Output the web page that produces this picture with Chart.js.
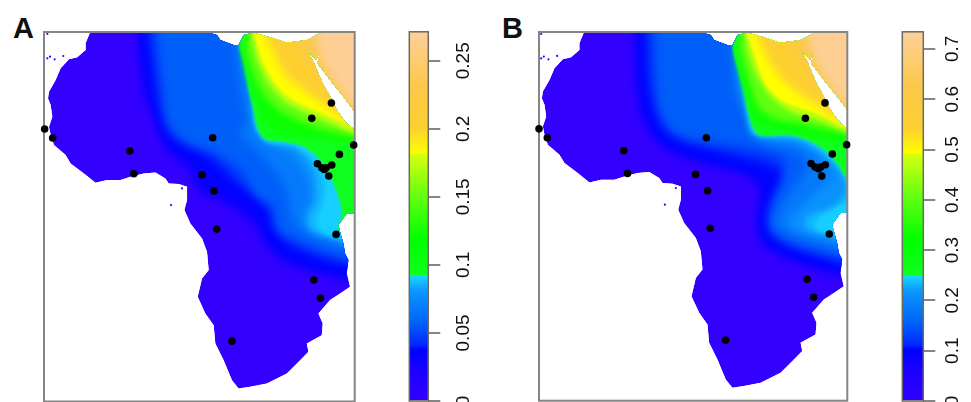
<!DOCTYPE html>
<html>
<head>
<meta charset="utf-8">
<script src="https://cdn.jsdelivr.net/npm/chart.js@4/dist/chart.umd.js"></script>
<style>
html, body { margin: 0; padding: 0; background: #fff; overflow: hidden; }
#page { position: relative; width: 971px; height: 402px; overflow: hidden; }
canvas { position: absolute; }
.tag { position: absolute; font: bold 29px "Liberation Sans", sans-serif; color: #111; line-height: 29px; }
</style>
</head>
<body>
<div id="page">
  <div class="tag" style="left:13px;top:14px">A</div>
  <div class="tag" style="left:502px;top:14px">B</div>
  <canvas id="mapA" width="320" height="380" style="left:40px;top:28px"></canvas>
  <canvas id="barA" width="90" height="400" style="left:400px;top:28px"></canvas>
  <canvas id="mapB" width="320" height="380" style="left:535px;top:28px"></canvas>
  <canvas id="barB" width="90" height="400" style="left:893px;top:28px"></canvas>
</div>
<script>
// colour ramp shared by both keys, position is the fraction of the key height
var rampPos = [0, 0.084, 0.138, 0.152, 0.22, 0.30, 0.3389, 0.339, 0.436, 0.55, 0.669, 0.67, 0.74, 0.85, 1];
var rampCol = ['#3300ff', '#1a00ff', '#0000ff', '#0028ff', '#0068f8', '#0c98ff', '#18d8ff', '#10ff20',
               '#00ff00', '#60ff10', '#d8ff10', '#ffff00', '#fdd030', '#fcc84a', '#fdd09a'];

// colour key A
var keyMaxA = 0.2713;
var keyTicksA = [0, 0.05, 0.1, 0.15, 0.2, 0.25];
var keyBreaksA = [0, 0.092, 0.1816, 0.2713];
// colour key B
var keyMaxB = 0.734;
var keyTicksB = [0, 0.1, 0.2, 0.3, 0.4, 0.5, 0.6, 0.7];
var keyBreaksB = [0, 0.2485, 0.493, 0.734];

// coastline, in map units
var landX = [268,600,650,660,700,715,730,760,810,860,920,955,962,1090,1090,1064,1030,990,952,960,948,920,940,970,985,1010,1035,1064,1090,1090,1040,1015,1020,1030,1035,1045,1040,1050,1020,990,955,968,965,920,925,900,860,800,750,715,695,670,645,640,615,592,605,625,620,605,570,552,560,560,535,505,495,465,430,390,360,320,285,250,210,195,160,150,145,155,150,142,145,165,180,205,230,255,255,268];
var landY = [90,90,105,120,135,135,105,98,112,128,120,102,90,90,335,335,290,240,190,155,180,150,185,255,280,330,365,390,395,640,640,675,695,730,760,780,820,860,880,900,940,970,1005,1030,1055,1080,1120,1150,1160,1165,1140,1080,1030,975,940,890,835,810,755,715,670,630,600,560,552,550,535,517,520,530,540,540,548,520,490,465,435,405,380,350,315,295,275,240,205,178,172,150,130,98];
// small specks off the coast
var speckX = [140,140,148,162,188,545,512];
var speckY = [102,175,170,178,168,565,615];

// blur of each contour band, soft inside the ramp, tight at the hard steps
var bandBlur = [5, 5, 5, 5, 5, 4, 3, 2, 0.8, 3, 3, 2, 1.2, 4, 5, 5];

// panel A: sampling sites
var siteXA = [132,156,388,400,637,605,641,649,695,941,961,1008,986,995,1018,1061,935,994,952,965,972,978];
var siteYA = [387,414,453,521,413,524,573,687,1023,840,894,703,528,495,463,435,355,309,491,503,508,503];

// panel A: value of each contour and its line across the map
var levelsA = [0.033, 0.038, 0.046, 0.057, 0.068, 0.079, 0.087, 0.0905, 0.092, 0.122, 0.149, 0.174, 0.182, 0.201, 0.231, 0.268];
var contourXA = [
  [410,420,430,460,500,570,590,680,760,820,920,1064],
  [425,435,450,475,520,600,640,700,775,805,850,950,1064],
  [445,460,475,505,550,630,710,790,825,870,965,1064],
  [470,480,490,505,550,650,720,770,820,835,890,980,1064],
  [700,712,722,740,720,770,820,860,870,890,960,1064],
  [730,740,750,760,790,870,920,930,910,930,1010,1064],
  [735,745,760,768,800,890,940,950,925,935,1020,1064],
  [730,745,760,770,800,880,950,975,965,950,965,1064],
  [730,715,730,745,760,770,795,850,910,960,995,1015,1025,1015,1064],
  [740,725,740,765,805,840,1064],
  [745,738,760,795,850,940,1064],
  [752,768,805,855,930,1000,1064],
  [760,785,820,870,940,1010,1064],
  [790,825,860,910,980,1064],
  [870,915,965,1030,1064],
  [945,960,1000,1064]
];
var contourYA = [
  [96,190,270,340,450,510,570,610,670,760,810,845],
  [96,200,290,380,440,490,540,580,635,700,760,795,820],
  [96,200,300,390,430,470,545,600,680,730,770,795],
  [96,200,270,370,420,460,510,590,620,690,720,755,780],
  [96,200,270,370,405,450,510,570,630,680,720,750],
  [96,200,270,370,420,460,530,590,650,690,720,740],
  [96,200,300,380,425,445,510,600,650,690,715,730],
  [96,200,330,385,422,435,490,560,620,660,695,725],
  [96,125,190,270,330,380,418,425,440,480,540,590,640,690,700],
  [96,150,220,300,380,400,430],
  [96,140,220,290,340,380,410],
  [96,170,250,305,345,375,400],
  [96,180,245,295,330,360,385],
  [96,170,230,270,320,375],
  [96,160,250,330,360],
  [96,170,240,320]
];

// panel B: sampling sites
var siteXB = [145,170,400,411,648,616,652,660,706,951,971,1018,995,1006,1027,1070,946,1005,963,975,985,992];
var siteYB = [385,412,451,519,412,522,571,684,1020,837,891,701,527,493,461,433,353,307,489,500,505,500];

// panel B: value of each contour and its line across the map
var levelsB = [0.088, 0.103, 0.125, 0.154, 0.184, 0.213, 0.235, 0.2445, 0.249, 0.33, 0.404, 0.47, 0.492, 0.543, 0.624, 0.725];
var contourXB = [
  [432,440,465,525,635,765,805,805,835,935,1072],
  [447,453,465,500,580,720,820,835,810,820,895,1072],
  [470,478,495,530,610,745,860,880,855,835,850,920,1072],
  [492,500,510,535,585,705,805,885,875,850,840,885,975,1072],
  [722,735,765,780,825,915,955,915,875,860,905,995,1072],
  [735,755,775,795,835,925,995,1025,975,915,895,935,1025,1072],
  [745,760,785,815,925,1005,1060,1065,1025,950,950,1025,1072],
  [745,760,785,815,925,1010,1065,1080,1040,985,975,1040,1072],
  [745,727,745,760,775,790,810,905,955,1005,1045,1072],
  [750,738,755,780,805,865,1072],
  [755,750,770,785,805,855,935,1072],
  [762,778,808,848,918,998,1072],
  [770,795,825,875,935,995,1072],
  [795,830,865,915,990,1072],
  [880,925,975,1035,1072],
  [950,970,1010,1072]
];
var contourYB = [
  [96,270,370,440,485,520,570,670,740,790,830],
  [96,250,320,410,460,500,530,575,640,720,765,815],
  [96,250,320,390,430,465,500,540,580,650,700,740,790],
  [96,250,330,380,410,430,445,480,550,610,680,720,750,770],
  [96,270,350,400,430,450,490,560,620,670,700,730,750],
  [96,270,350,400,415,430,480,530,580,640,670,695,720,730],
  [96,240,390,408,418,465,530,580,620,650,685,705,720],
  [96,240,390,405,410,460,525,590,620,655,685,705,712],
  [96,135,215,270,340,385,405,405,420,450,495,535],
  [96,150,240,320,370,385,430],
  [96,140,220,270,320,355,370,400],
  [96,170,240,295,340,365,395],
  [96,170,250,300,325,345,385],
  [96,170,225,270,320,370],
  [96,160,250,325,360],
  [96,170,240,320]
];

function hexRgb(h) {
    return [parseInt(h.substr(1, 2), 16), parseInt(h.substr(3, 2), 16), parseInt(h.substr(5, 2), 16)];
}

// colour of a position on the ramp
function rampColour(f) {
    var i = 0;
    while (i < rampPos.length - 2 && f > rampPos[i + 1]) i++;
    var t = Math.min(1, Math.max(0, (f - rampPos[i]) / (rampPos[i + 1] - rampPos[i])));
    var a = hexRgb(rampCol[i]), b = hexRgb(rampCol[i + 1]);
    return 'rgb(' + [0, 1, 2].map(function (k) { return Math.round(a[k] + (b[k] - a[k]) * t); }).join(',') + ')';
}

function toPoints(xs, ys) {
    return xs.map(function (x, i) { return { x: x, y: ys[i] }; });
}

// clips the coloured field to the coast, then draws the frame on top of it
function mapLayers(coast) {
    return {
        id: 'mapLayers',
        beforeDatasetsDraw: function (chart) {
            var ctx = chart.ctx, sx = chart.scales.x, sy = chart.scales.y;
            ctx.save();
            ctx.beginPath();
            coast.forEach(function (p, i) {
                var px = sx.getPixelForValue(p.x), py = sy.getPixelForValue(p.y);
                if (i == 0) ctx.moveTo(px, py); else ctx.lineTo(px, py);
            });
            ctx.closePath();
            ctx.clip();
        },
        afterDatasetDraw: function (chart, args) {
            var ds = chart.data.datasets[args.index], ctx = chart.ctx;
            // the filler paints before this plugin's before-hook, so set the next band's blur here
            if (ds.nextBlur) ctx.filter = 'blur(' + ds.nextBlur + 'px)';
            if (ds.lastBand) {
                ctx.filter = 'none';
                ctx.restore();
                var a = chart.chartArea;
                ctx.strokeStyle = '#858585';
                ctx.lineWidth = 2;
                ctx.strokeRect(a.left, a.top, a.right - a.left, a.bottom - a.top);
            }
        }
    };
}

function drawMap(id, coast, specks, sites, levels, xs, ys, vmax, xRange, yRange, pad) {
    var n = levels.length;
    var datasets = [];
    // sites on top, then specks, then the contour bands, the land at the back
    datasets.push({ data: toPoints(sites[0], sites[1]), backgroundColor: '#000', pointRadius: 3.8, borderWidth: 0, showLine: false, clip: false, order: 0 });
    datasets.push({ data: toPoints(specks[0], specks[1]), backgroundColor: rampColour(0), pointRadius: 1.1, borderWidth: 0, showLine: false, order: 1 });
    for (var i = 0; i < n; i++) {
        var last = xs[i].length - 1;
        var bx = xs[i].concat([1100, 1100, xs[i][0]]);
        var by = ys[i].concat([ys[i][last], 40, 40]);
        datasets.push({
            data: toPoints(bx, by), showLine: true, fill: 'shape', tension: 0.3,
            backgroundColor: rampColour(levels[i] / vmax), borderColor: 'transparent', borderWidth: 0,
            pointRadius: 0, order: 2 + n - i, lastBand: i == n - 1, nextBlur: bandBlur[i + 1]
        });
    }
    datasets.push({
        data: coast, showLine: true, fill: 'shape', tension: 0,
        backgroundColor: rampColour(0), borderColor: 'transparent', borderWidth: 0,
        pointRadius: 0, order: 3 + n, nextBlur: bandBlur[0]
    });

    new Chart(document.getElementById(id), {
        type: 'scatter',
        data: { datasets: datasets },
        options: {
            responsive: false,
            animation: false,
            layout: { padding: pad },
            elements: { line: { capBezierPoints: false } },
            plugins: { legend: { display: false }, tooltip: { enabled: false } },
            scales: {
                x: { display: false, min: xRange[0], max: xRange[1] },
                y: { display: false, reverse: true, min: yRange[0], max: yRange[1] }
            }
        },
        plugins: [mapLayers(coast)]
    });
}

function drawKey(id, breaks, ticks, vmax, pad, axisWidth, tickPad, tickLen) {
    // one floating bar per ramp section, split at the two hard colour steps
    var sections = [];
    for (var i = 0; i < breaks.length - 1; i++) sections.push([breaks[i], breaks[i + 1]]);
    var datasets = sections.map(function (s) {
        return {
            data: [s],
            barPercentage: 1,
            categoryPercentage: 1,
            backgroundColor: function (c) {
                var sy = c.chart.scales.y;
                var y0 = sy ? sy.getPixelForValue(s[0]) : NaN, y1 = sy ? sy.getPixelForValue(s[1]) : NaN;
                if (!isFinite(y0) || !isFinite(y1)) return '#00f';
                var lo = s[0] / vmax, hi = s[1] / vmax;
                var g = c.chart.ctx.createLinearGradient(0, y0, 0, y1);
                g.addColorStop(0, rampColour(lo + 0.0005));
                rampPos.forEach(function (p) {
                    if (p > lo + 0.002 && p < hi - 0.002) g.addColorStop((p - lo) / (hi - lo), rampColour(p));
                });
                g.addColorStop(1, rampColour(hi - 0.0005));
                return g;
            }
        };
    });
    new Chart(document.getElementById(id), {
        type: 'bar',
        data: { labels: ['key'], datasets: datasets },
        options: {
            responsive: false,
            animation: false,
            layout: { padding: pad },
            plugins: { legend: { display: false }, tooltip: { enabled: false } },
            scales: {
                x: { display: false, stacked: true },
                y: {
                    position: 'right',
                    min: 0,
                    max: vmax,
                    afterFit: function (s) { s.width = axisWidth; s.paddingTop = 0; s.paddingBottom = 0; },
                    afterBuildTicks: function (s) { s.ticks = ticks.map(function (v) { return { value: v }; }); },
                    border: { display: false },
                    grid: { drawOnChartArea: false, color: '#858585', lineWidth: 2, tickLength: tickLen },
                    ticks: {
                        autoSkip: false,
                        minRotation: 90,
                        maxRotation: 90,
                        crossAlign: 'center',
                        padding: tickPad,
                        color: '#111',
                        font: { family: '"Liberation Sans"', size: 19 },
                        callback: function (v) { return String(v); }
                    }
                }
            }
        },
        plugins: [{
            id: 'keyFrame',
            afterDatasetsDraw: function (chart) {
                var a = chart.chartArea, ctx = chart.ctx;
                ctx.save();
                ctx.strokeStyle = '#6e6a60';
                ctx.lineWidth = 1.5;
                ctx.strokeRect(a.left, a.top, a.right - a.left, a.bottom - a.top);
                ctx.restore();
            }
        }]
    });
}

var coastA = toPoints(landX, landY);
// panel B sits a little differently inside its frame
var coastB = toPoints(landX.map(function (x) { return x + 11.5; }), landY.map(function (y) { return y - 2; }));
var speckXB = speckX.map(function (x) { return x + 11.5; });
var speckYB = speckY.map(function (y) { return y - 2; });

drawMap('mapA', coastA, [speckX, speckY], [siteXA, siteYA], levelsA, contourXA, contourYA, keyMaxA,
    [130, 1064], [96, 1204], { left: 3.3, right: 5.3, top: 4, bottom: 6.5 });
drawMap('mapB', coastB, [speckXB, speckYB], [siteXB, siteYB], levelsB, contourXB, contourYB, keyMaxB,
    [145, 1072], [94, 1202], { left: 3.3, right: 7.7, top: 3.3, bottom: 7.3 });
drawKey('barA', keyBreaksA, keyTicksA, keyMaxA, { left: 9.3, right: 0, top: 3.8, bottom: 27 }, 61.7, 4.5, 12);
drawKey('barB', keyBreaksB, keyTicksB, keyMaxB, { left: 9.3, right: 0, top: 3.8, bottom: 27 }, 59.7, 4, 12);
</script>
</body>
</html>
